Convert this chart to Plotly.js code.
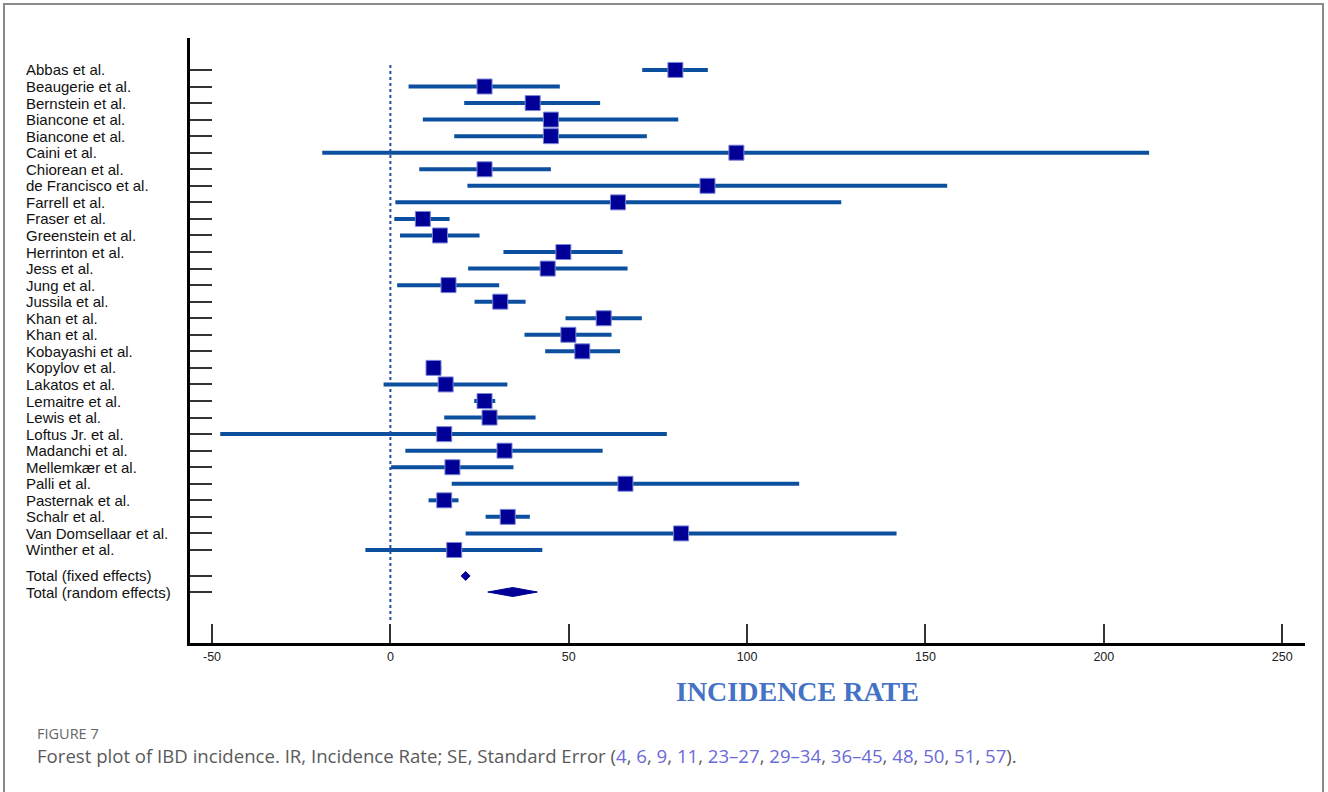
<!DOCTYPE html>
<html>
<head>
<meta charset="utf-8">
<script src="https://cdn.plot.ly/plotly-3.0.1.min.js"></script>
<style>
  html, body { margin: 0; padding: 0; background: #ffffff; }
  #wrap { position: relative; width: 1328px; height: 792px; overflow: hidden; }
  #chart { position: absolute; left: 0; top: 0; width: 1328px; height: 792px; }
  #frame { position: absolute; left: 3px; top: 3px; width: 1321px; height: 820px;
           border: 2px solid #8a8a8a; pointer-events: none; box-sizing: border-box; }
</style>
</head>
<body>
<div id="wrap">
  <div id="chart"></div>
  <div id="frame"></div>
</div>
<script>
// ---- Data ----
const studies = [
  "Abbas et al.", "Beaugerie et al.", "Bernstein et al.", "Biancone et al.", "Biancone et al.",
  "Caini et al.", "Chiorean et al.", "de Francisco et al.", "Farrell et al.", "Fraser et al.",
  "Greenstein et al.", "Herrinton et al.", "Jess et al.", "Jung et al.", "Jussila et al.",
  "Khan et al.", "Khan et al.", "Kobayashi et al.", "Kopylov et al.", "Lakatos et al.",
  "Lemaitre et al.", "Lewis et al.", "Loftus Jr. et al.", "Madanchi et al.", "Mellemkær et al.",
  "Palli et al.", "Pasternak et al.", "Schalr et al.", "Van Domsellaar et al.", "Winther et al."
];
const incidence = [
  79.9, 26.4, 39.9, 45.0, 45.0,
  97.0, 26.4, 88.9, 63.8, 9.1,
  13.9, 48.5, 44.1, 16.3, 30.8,
  59.8, 49.9, 53.8, 12.1, 15.5,
  26.4, 27.8, 15.1, 32.0, 17.4,
  65.9, 15.1, 32.9, 81.5, 17.9
];
const ciLow = [
  70.6, 5.1, 20.7, 9.1, 17.9,
  -19.1, 8.1, 21.6, 1.4, 1.1,
  2.7, 31.7, 21.8, 1.9, 23.6,
  49.1, 37.6, 43.4, 10.0, -1.9,
  23.5, 15.1, -47.7, 4.2, 0.2,
  17.2, 10.7, 26.7, 21.1, -7.0
];
const ciHigh = [
  89.0, 47.5, 58.8, 80.7, 71.9,
  212.7, 45.0, 156.1, 126.4, 16.6,
  25.0, 65.1, 66.5, 30.5, 37.9,
  70.5, 62.0, 64.4, 14.3, 32.8,
  29.4, 40.7, 77.5, 59.5, 34.5,
  114.6, 19.1, 39.1, 141.9, 42.6
];
const totalLabels = ["Total (fixed effects)", "Total (random effects)"];
const totalEstimate = [21.1, 34.3];
const totalLow = [19.85, 27.3];
const totalHigh = [22.35, 41.2];
const xTickVals = [-50, 0, 50, 100, 150, 200, 250];
const xAxisTitle = "INCIDENCE RATE";
const figureLabel = "FIGURE 7";
const captionText = "Forest plot of IBD incidence. IR, Incidence Rate; SE, Standard Error (";
const captionRefs = ["4", "6", "9", "11", "23–27", "29–34", "36–45", "48", "50", "51", "57"];

// ---- Layout positions ----
const rowPos = studies.map((_, i) => i);
const totalPos = [studies.length - 1 + 1.57, studies.length - 1 + 2.54];
const diamondHalf = 0.27;

const lineColor = "#0b4f9e";
const markColor = "#000096";
const labelFont = { family: "'Liberation Sans', Arial, sans-serif", size: 15, color: "#111" };
const labelX = (24 - 190) / 1115;

const traces = [];
traces.push({
  type: "scatter", mode: "markers",
  x: incidence, y: rowPos,
  marker: { symbol: "square", size: 15, color: markColor, line: { color: "#7a86d6", width: 1 } },
  error_x: {
    type: "data", symmetric: false,
    array: incidence.map((v, i) => ciHigh[i] - v),
    arrayminus: incidence.map((v, i) => v - ciLow[i]),
    color: lineColor, thickness: 4, width: 0
  },
  hoverinfo: "x+y", showlegend: false
});
totalEstimate.forEach((c, i) => {
  const y = totalPos[i];
  traces.push({
    type: "scatter", mode: "lines", fill: "toself",
    x: [totalLow[i], c, totalHigh[i], c, totalLow[i]],
    y: [y, y - diamondHalf, y, y + diamondHalf, y],
    line: { color: markColor, width: 1 }, fillcolor: markColor,
    showlegend: false, hoverinfo: "skip"
  });
});

const annotations = [];
studies.forEach((s, i) => {
  annotations.push({
    text: s, xref: "paper", yref: "y", x: labelX, y: rowPos[i],
    xanchor: "left", yanchor: "middle", showarrow: false, font: labelFont
  });
});
totalLabels.forEach((s, i) => {
  annotations.push({
    text: s, xref: "paper", yref: "y", x: labelX, y: totalPos[i],
    xanchor: "left", yanchor: "middle", showarrow: false, font: labelFont
  });
});
// x axis title (offset like the reference)
annotations.push({
  text: "<b>" + xAxisTitle + "</b>", xref: "paper", yref: "paper",
  x: (797 - 190) / 1115, y: -(691 - 643) / 605, xanchor: "center", yanchor: "middle",
  showarrow: false,
  font: { family: "'Liberation Serif', 'Times New Roman', serif", size: 28, color: "#4472c4" }
});
// caption
annotations.push({
  text: figureLabel, xref: "paper", yref: "paper",
  x: (35 - 190) / 1115, y: -(733 - 643) / 605, xanchor: "left", yanchor: "middle",
  showarrow: false,
  font: { family: "'Open Sans', sans-serif", size: 14.5, color: "#666" }
});
const refHtml = captionRefs.map(r => '<span style="color:#6a6ad8">' + r + '</span>').join(", ");
annotations.push({
  text: captionText + refHtml + ").", xref: "paper", yref: "paper",
  x: (35 - 190) / 1115, y: -(755 - 643) / 605, xanchor: "left", yanchor: "middle",
  showarrow: false,
  font: { family: "'Open Sans', sans-serif", size: 18.6, color: "#5a5a5a" }
});

const layout = {
  width: 1328, height: 792,
  margin: { l: 190, r: 23, t: 38, b: 149 },
  paper_bgcolor: "#ffffff", plot_bgcolor: "#ffffff",
  xaxis: {
    range: [-56.17, 256.4], tickvals: xTickVals, ticktext: xTickVals.map(String),
    ticks: "inside", ticklen: 19, tickwidth: 2, tickcolor: "#333",
    showline: true, linecolor: "#000", linewidth: 3,
    showgrid: false, zeroline: false,
    tickfont: { family: "'Liberation Sans', Arial, sans-serif", size: 12.5, color: "#222" },
    fixedrange: true
  },
  yaxis: {
    range: [34.62, -1.93],
    tickvals: rowPos.concat(totalPos),
    showticklabels: false,
    ticks: "inside", ticklen: 22, tickwidth: 2, tickcolor: "#333",
    showline: true, linecolor: "#000", linewidth: 3,
    showgrid: false, zeroline: false, fixedrange: true
  },
  shapes: [{
    type: "line", xref: "x", yref: "paper", x0: 0, x1: 0,
    y0: 1 - (620 - 38) / 605, y1: 1 - (62 - 38) / 605,
    line: { color: "#1f4e9f", width: 2, dash: "dot" }
  }],
  annotations: annotations,
  showlegend: false
};

Plotly.newPlot("chart", traces, layout, { displayModeBar: false, staticPlot: true });
</script>
</body>
</html>
